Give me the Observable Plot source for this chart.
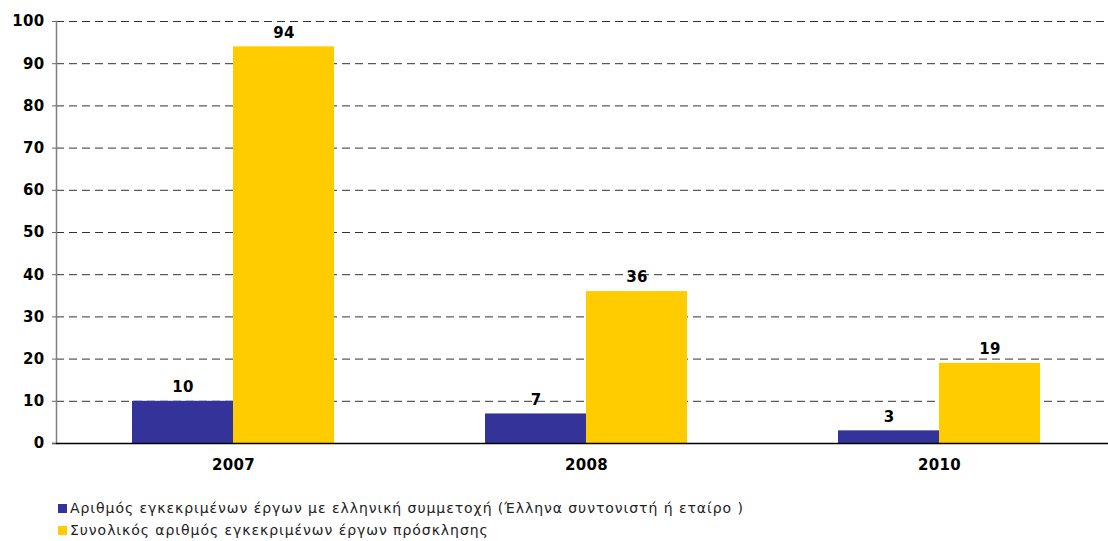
<!DOCTYPE html>
<html>
<head>
<meta charset="utf-8">
<script src="https://cdn.jsdelivr.net/npm/d3@7"></script>
<script src="https://cdn.jsdelivr.net/npm/@observablehq/plot@0.6"></script>
<style>
  html, body { margin: 0; padding: 0; background: #fff; }
  #chart { width: 1108px; }
  .legend { font-family: "DejaVu Sans", Verdana, sans-serif; font-size: 14px; letter-spacing: 0.95px; color: #222; margin-left: 58px; margin-top: 22px; }
  .legend div { display: flex; align-items: center; height: 22px; }
  .legend span.sw { display: inline-block; width: 9px; height: 9px; margin-right: 3px; }
</style>
</head>
<body>
<div id="chart"></div>
<script>
const years = ["2007", "2008", "2010"];
const seriesNames = [
  "Αριθμός εγκεκριμένων έργων με ελληνική συμμετοχή (Έλληνα συντονιστή ή εταίρο )",
  "Συνολικός αριθμός εγκεκριμένων έργων πρόσκλησης"
];
const greekValues = [10, 7, 3];
const totalValues = [94, 36, 19];
const yTicks = [0, 10, 20, 30, 40, 50, 60, 70, 80, 90, 100];
const colors = ["#333399", "#FFCC00"];

const greekRows = years.map((y, i) => ({year: y, series: seriesNames[0], value: greekValues[i]}));
const totalRows = years.map((y, i) => ({year: y, series: seriesNames[1], value: totalValues[i]}));

const half = 101;
const labelFont = {fontFamily: "'DejaVu Sans', Verdana, sans-serif", fontWeight: "bold", fontSize: 15, fill: "#000"};

const plot = Plot.plot({
  width: 1108,
  height: 475,
  marginTop: 21,
  marginBottom: 32,
  marginLeft: 56,
  marginRight: 0,
  style: {fontFamily: "'DejaVu Sans', Verdana, sans-serif", background: "#fff", letterSpacing: "0.3px"},
  x: {domain: years, paddingInner: 0.4286, paddingOuter: 0.2023, align: 0.53, label: null},
  y: {domain: [0, 100], label: null},
  marks: [
    Plot.ruleY(yTicks.filter(d => d > 0), {stroke: "#333", strokeDasharray: "8,5", strokeWidth: 1}),
    Plot.barY(greekRows, {x: "year", y: "value", fill: colors[0], insetRight: half}),
    Plot.barY(totalRows, {x: "year", y: "value", fill: colors[1], insetLeft: half}),
    Plot.text(greekRows, {x: "year", y: "value", text: d => String(d.value), dx: -half / 2, dy: -14, ...labelFont}),
    Plot.text(totalRows, {x: "year", y: "value", text: d => String(d.value), dx: half / 2, dy: -14, ...labelFont}),
    Plot.frame({anchor: "left", stroke: "#808080", strokeWidth: 1.5}),
    Plot.ruleY([0], {stroke: "#000", strokeWidth: 1.5, insetLeft: -4}),
    Plot.axisY({ticks: yTicks, tickSize: 4, tickPadding: 8, stroke: "#666", label: null, ...labelFont}),
    Plot.axisX({tickSize: 0, tickPadding: 16, label: null, ...labelFont})
  ]
});
document.getElementById("chart").appendChild(plot);

const legend = document.createElement("div");
legend.className = "legend";
seriesNames.forEach((name, i) => {
  const row = document.createElement("div");
  const sw = document.createElement("span");
  sw.className = "sw";
  sw.style.background = colors[i];
  row.appendChild(sw);
  row.appendChild(document.createTextNode(name));
  legend.appendChild(row);
});
document.getElementById("chart").appendChild(legend);
</script>
</body>
</html>
